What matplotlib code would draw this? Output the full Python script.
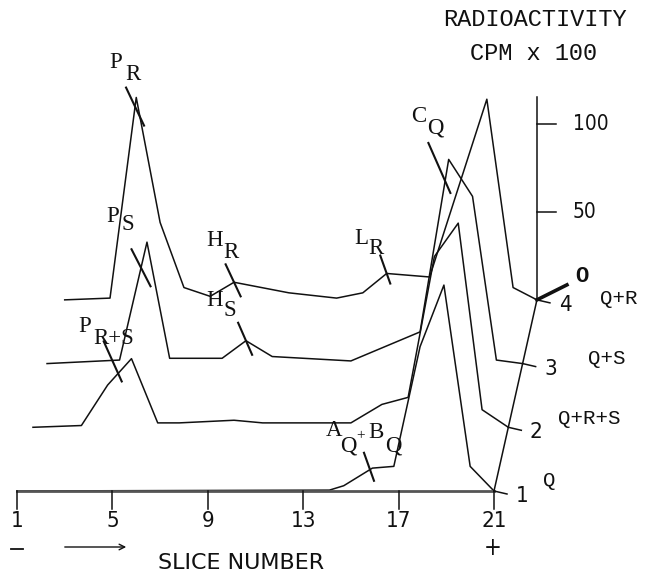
import numpy as np
import matplotlib
matplotlib.use('Agg')
import matplotlib.pyplot as plt

# radioactivity (CPM x 100) along the gel
q_slice = [1, 14.1, 14.7, 15.9, 16.8, 17.9, 18.9, 20.0, 21.0]
q_cpm = [0, 0.5, 3, 13, 14, 82, 117, 14, 0]

qrs_slice = [1.07, 3.1, 4.2, 5.2, 6.3, 7.2, 9.5, 10.7, 14.4, 15.7, 16.8, 17.9, 18.9, 19.9, 21.0]
qrs_cpm = [0, 1, 24, 39, 2.5, 2.5, 4, 2.5, 2.5, 13, 17, 97, 116, 10, 0]

qs_slice = [1.06, 4.1, 5.25, 6.2, 8.4, 9.4, 10.5, 13.8, 16.7, 17.9, 18.9, 19.9, 21.0]
qs_cpm = [0, 2, 69, 3, 3, 13, 4, 1.5, 18, 116, 95, 2, 0]

qr_slice = [1.2, 3.1, 4.2, 5.2, 6.2, 7.3, 8.3, 10.6, 12.6, 13.7, 14.7, 16.5, 18.9, 20.0, 21.0]
qr_cpm = [0, 1, 115, 44, 7, 2, 10, 4, 1, 4, 15, 13, 114, 7, 0]

gels = ['Q', 'Q+R+S', 'Q+S', 'Q+R']
curves = [(q_slice, q_cpm), (qrs_slice, qrs_cpm), (qs_slice, qs_cpm), (qr_slice, qr_cpm)]

x_ticks = [1, 5, 9, 13, 17, 21]
cpm_ticks = [50, 100]

# band labels: (gel index, slice where the mark crosses, main letter, subscript)
bands = [
    (3, 4.15, 'P', 'R'),
    (2, 5.0, 'P', 'S'),
    (1, 4.64, 'P', 'R+S'),
    (3, 8.3, 'H', 'R'),
    (2, 9.4, 'H', 'S'),
    (3, 14.7, 'L', 'R'),
    (2, 17.75, 'C', 'Q'),
    (0, 15.8, 'A', 'Q'),
]

# ---- layout (pixels of the 646x576 picture) ----
PX_X = 23.85     # px per slice
PX_Y = 1.76      # px per CPM x 100
X0, Y0 = 17, 491
SHIFT_X = 0.6    # each gel drawn a bit to the right ...
SHIFT_Y = 36.2   # ... and higher


def X(px):
    return (px - X0) / PX_X + 1


def Y(py):
    return (Y0 - py) / PX_Y


fig = plt.figure(figsize=(6.46, 5.76), dpi=100)
ax = fig.add_axes([0, 0, 1, 1])
ax.set_xlim(X(0), X(646))
ax.set_ylim(Y(576), Y(0))
ax.axis('off')

lw = 1.1
k = '#111111'
plot_font = dict(family='DejaVu Sans', fontstretch='condensed', color=k)
serif = dict(family='Liberation Serif', fontsize=16.5, color=k)
mono = dict(family='Liberation Mono', color=k)

for i, (s, v) in enumerate(curves):
    ax.plot(np.array(s) + i * SHIFT_X, np.array(v) + i * SHIFT_Y, color=k, lw=lw)

# slice axis
ax.plot([1, 21], [0, 0], color='#555555', lw=2.0)
for t in x_ticks:
    ax.plot([t, t], [0, -18 / PX_Y], color=k, lw=lw)
    ax.text(t, Y(521), str(t), ha='center', va='center', fontsize=16, **plot_font)
ax.plot([X(11), X(23)], [Y(549), Y(549)], color=k, lw=1.3)
ax.annotate('', xy=(X(129), Y(547)), xytext=(X(62), Y(547)),
            arrowprops=dict(arrowstyle='->', color=k, lw=1.0))
ax.text(X(493), Y(548), '+', ha='center', va='center', fontsize=17, **plot_font)
ax.text(X(241), Y(563), 'SLICE NUMBER', ha='center', va='center', fontsize=16,
        family='DejaVu Sans', color=k)

# slanted axis through the ends of the gels
n = len(curves)
end_x = [21 + i * SHIFT_X for i in range(n)]
end_y = [i * SHIFT_Y for i in range(n)]
ax.plot([end_x[0], end_x[-1]], [end_y[0], end_y[-1]], color=k, lw=lw)
for i in range(n):
    ax.plot([end_x[i], end_x[i] + 13 / PX_X], [end_y[i], end_y[i] - 3 / PX_Y], color=k, lw=lw)
    ax.text(end_x[i] + 28 / PX_X, end_y[i] - 5 / PX_Y, str(i + 1), ha='center', va='center',
            fontsize=16, **plot_font)

name_pos = [(543, 480), (558, 418), (588, 358), (600, 298)]
for name, (px, py) in zip(gels, name_pos):
    ax.text(X(px), Y(py), name, ha='left', va='center', fontsize=15, **mono)

# CPM axis for the top gel
ax_x = end_x[-1]
ax_y0 = end_y[-1]
ax.plot([ax_x, ax_x], [ax_y0, ax_y0 + 115], color=k, lw=lw)
for t in cpm_ticks:
    ax.plot([ax_x, ax_x + 19 / PX_X], [ax_y0 + t, ax_y0 + t], color=k, lw=lw)
    ax.text(ax_x + 36 / PX_X, ax_y0 + t, str(t), ha='left', va='center', fontsize=15, **plot_font)
ax.plot([ax_x, ax_x + 30 / PX_X], [ax_y0, ax_y0 + 15 / PX_Y], color=k, lw=2.6)
ax.text(ax_x + 45 / PX_X, ax_y0 + 23 / PX_Y, 'O', ha='center', va='center', fontsize=16,
        fontweight='bold', **mono)

ax.text(X(535), Y(20), 'RADIOACTIVITY', ha='center', va='center', fontsize=17, **mono)
ax.text(X(534), Y(54), 'CPM x 100', ha='center', va='center', fontsize=17, **mono)

# band marks crossing the curves
marks = [((18, 38), 0.5), ((19, 37), 0.5), ((18, 40), 0.8), ((15, 32), 0.56),
         ((14, 32), 0.56), ((10, 28), 0.64), ((22, 50), 0.76), ((10, 28), 0.6)]
for (gi, s, _, _), ((vx, vy), f) in zip(bands, marks):
    xs, vs = curves[gi]
    px_ = s + gi * SHIFT_X
    py_ = np.interp(s, xs, vs) + gi * SHIFT_Y
    dxv, dyv = vx / PX_X, -vy / PX_Y
    ax.plot([px_ - f * dxv, px_ + (1 - f) * dxv], [py_ - f * dyv, py_ + (1 - f) * dyv],
            color=k, lw=1.5)

label_pos = [((116, 63), (125, 74)), ((113, 216), (121, 224)), ((85, 326), (93, 338)),
             ((215, 240), (223, 252)), ((215, 300), (223, 311)), ((361, 239), (368, 249)),
             ((419, 116), (427, 128)), ((334, 431), (340, 446))]
for (_, _, main, sub), ((mx, my), (sx, sy)) in zip(bands, label_pos):
    ax.text(X(mx), Y(my), main, ha='center', va='center', **serif)
    ax.text(X(sx), Y(sy), sub, ha='left', va='center', **serif)
# second half of the A_Q + B_Q label
ax.text(X(361), Y(436), '+', ha='center', va='center', family='Liberation Serif',
        fontsize=11, color=k)
ax.text(X(376), Y(432), 'B', ha='center', va='center', **serif)
ax.text(X(385), Y(446), 'Q', ha='left', va='center', **serif)

fig.savefig('out.png', dpi=100, facecolor='white')
